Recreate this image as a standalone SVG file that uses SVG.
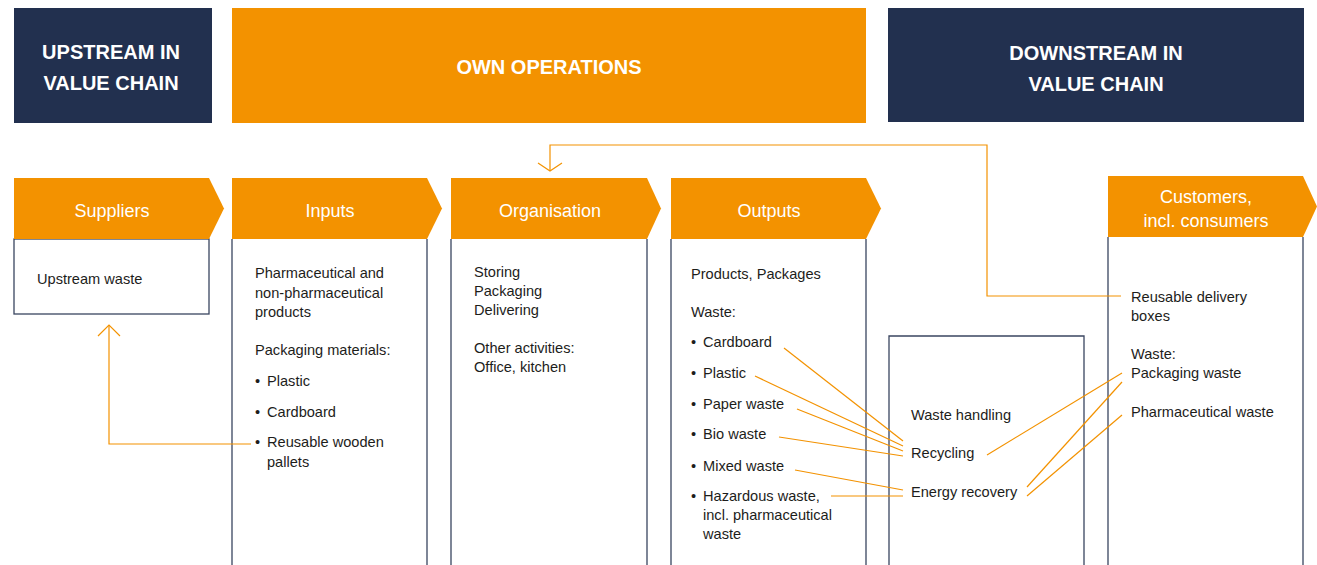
<svg xmlns="http://www.w3.org/2000/svg" width="1317" height="565" viewBox="0 0 1317 565">
<defs>
<style>
.hdr{font-family:"Liberation Sans",Arial,sans-serif;font-weight:bold;font-size:20px;fill:#fff;text-anchor:middle}
.chev{fill:#f39200}
.clab{font-family:"Liberation Sans",Arial,sans-serif;font-size:18px;fill:#fff;text-anchor:middle}
.t{font-family:"Liberation Sans",Arial,sans-serif;font-size:14.6px;fill:#1d1d1b}
.box{fill:none;stroke:#3a4560;stroke-width:1.3}
.con{fill:none;stroke:#f39200;stroke-width:1.2}
</style>
<marker id="arrA" viewBox="0 0 14 24" refX="12" refY="12" markerWidth="14" markerHeight="24" markerUnits="userSpaceOnUse" orient="auto">
<path d="M1,1 L12,12 L1,23" fill="none" stroke="#f39200" stroke-width="1.2"/>
</marker>
<marker id="arrB" viewBox="0 0 10 26" refX="9" refY="13" markerWidth="10" markerHeight="26" markerUnits="userSpaceOnUse" orient="auto">
<path d="M1,1 L9,13 L1,25" fill="none" stroke="#f39200" stroke-width="1.2"/>
</marker>
</defs>
<rect width="1317" height="565" fill="#fff"/>

<g id="hdr-upstream">
<rect x="14" y="8" width="198" height="115" fill="#22304f"/>
<text class="hdr" x="111" y="59">UPSTREAM IN</text>
<text class="hdr" x="111" y="90">VALUE CHAIN</text>
</g>
<g id="hdr-own">
<rect x="232" y="8" width="634" height="115" fill="#f39200"/>
<text class="hdr" x="549" y="74">OWN OPERATIONS</text>
</g>
<g id="hdr-downstream">
<rect x="888" y="8" width="416" height="114" fill="#22304f"/>
<text class="hdr" x="1096" y="60">DOWNSTREAM IN</text>
<text class="hdr" x="1096" y="91">VALUE CHAIN</text>
</g>

<g id="suppliers">
<rect class="box" x="14" y="239" width="195" height="75"/>
<polygon class="chev" points="14,178 209,178 224,208.5 209,239 14,239"/>
<text class="clab" x="112" y="217">Suppliers</text>
<text class="t" x="37" y="284">Upstream waste</text>
</g>

<g id="inputs">
<path class="box" d="M232,239 V570 M427,239 V570"/>
<polygon class="chev" points="232,178 427,178 442,208.5 427,239 232,239"/>
<text class="clab" x="330" y="217">Inputs</text>
<text class="t" x="255" y="278">Pharmaceutical and</text>
<text class="t" x="255" y="298">non-pharmaceutical</text>
<text class="t" x="255" y="317">products</text>
<text class="t" x="255" y="355">Packaging materials:</text>
<text class="t" x="255" y="386">•</text><text class="t" x="267" y="386">Plastic</text>
<text class="t" x="255" y="417">•</text><text class="t" x="267" y="417">Cardboard</text>
<text class="t" x="255" y="447">•</text><text class="t" x="267" y="447">Reusable wooden</text>
<text class="t" x="267" y="467">pallets</text>
</g>

<g id="organisation">
<path class="box" d="M451,239 V570 M647,239 V570"/>
<polygon class="chev" points="451,178 647,178 661,208.5 647,239 451,239"/>
<text class="clab" x="550" y="217">Organisation</text>
<text class="t" x="474" y="277">Storing</text>
<text class="t" x="474" y="296">Packaging</text>
<text class="t" x="474" y="315">Delivering</text>
<text class="t" x="474" y="353">Other activities:</text>
<text class="t" x="474" y="372">Office, kitchen</text>
</g>

<g id="outputs">
<path class="box" d="M671,239 V570 M866,239 V570"/>
<polygon class="chev" points="671,178 866,178 881,208.5 866,239 671,239"/>
<text class="clab" x="769" y="217">Outputs</text>
<text class="t" x="691" y="279">Products, Packages</text>
<text class="t" x="691" y="317">Waste:</text>
<text class="t" x="691" y="347">•</text><text class="t" x="703" y="347">Cardboard</text>
<text class="t" x="691" y="378">•</text><text class="t" x="703" y="378">Plastic</text>
<text class="t" x="691" y="409">•</text><text class="t" x="703" y="409">Paper waste</text>
<text class="t" x="691" y="439">•</text><text class="t" x="703" y="439">Bio waste</text>
<text class="t" x="691" y="471">•</text><text class="t" x="703" y="471">Mixed waste</text>
<text class="t" x="691" y="501">•</text><text class="t" x="703" y="501">Hazardous waste,</text>
<text class="t" x="703" y="520">incl. pharmaceutical</text>
<text class="t" x="703" y="539">waste</text>
</g>

<g id="waste-handling">
<path class="box" d="M889,570 V336 H1084 V570"/>
<text class="t" x="911" y="420">Waste handling</text>
<text class="t" x="911" y="458">Recycling</text>
<text class="t" x="911" y="497">Energy recovery</text>
</g>

<g id="customers">
<path class="box" d="M1108,237 V570 M1303,237 V570"/>
<polygon class="chev" points="1108,176 1303,176 1317,206.5 1303,237 1108,237"/>
<text class="clab" x="1206" y="203">Customers,</text>
<text class="clab" x="1206" y="227">incl. consumers</text>
<text class="t" x="1131" y="302">Reusable delivery</text>
<text class="t" x="1131" y="321">boxes</text>
<text class="t" x="1131" y="359">Waste:</text>
<text class="t" x="1131" y="378">Packaging waste</text>
<text class="t" x="1131" y="417">Pharmaceutical waste</text>
</g>

<g id="connectors">
<path class="con" d="M251,444 H109 V325" marker-end="url(#arrA)"/>
<path class="con" d="M1121,296 H987 V145 H550 V171" marker-end="url(#arrB)"/>
<line class="con" x1="784" y1="348" x2="903" y2="441"/>
<line class="con" x1="755" y1="376" x2="903" y2="446"/>
<line class="con" x1="797" y1="409" x2="903" y2="451"/>
<line class="con" x1="779" y1="437" x2="903" y2="456"/>
<line class="con" x1="795" y1="470" x2="903" y2="490"/>
<line class="con" x1="831" y1="496" x2="903" y2="496"/>
<line class="con" x1="987" y1="455" x2="1122" y2="373"/>
<line class="con" x1="1027" y1="487" x2="1122" y2="382"/>
<line class="con" x1="1027" y1="496" x2="1122" y2="415"/>
</g>
</svg>
